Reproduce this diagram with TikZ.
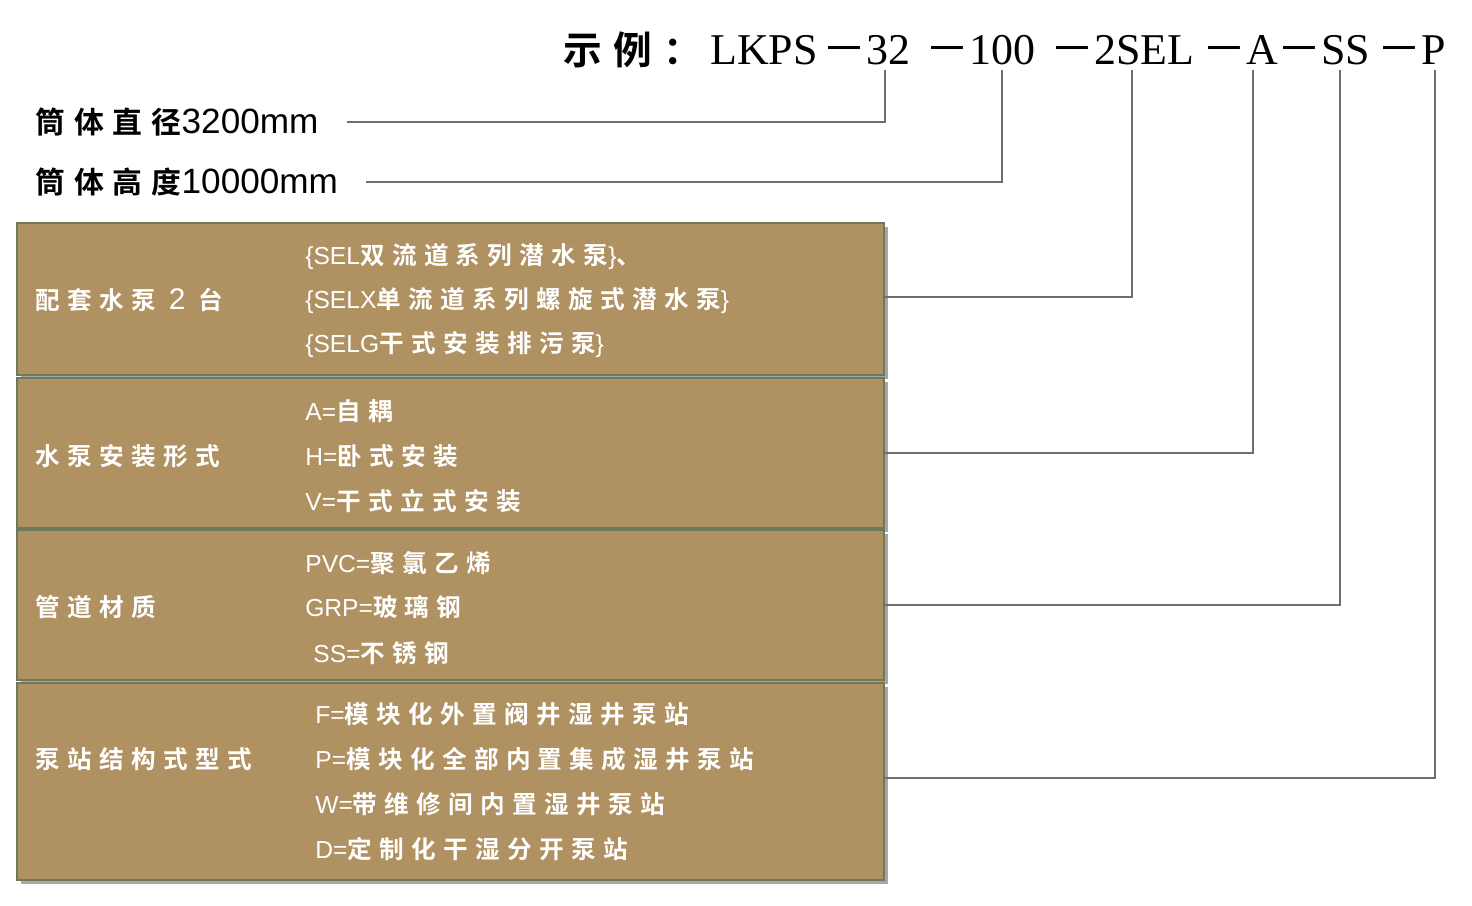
\documentclass[tikz,border=0pt]{standalone}
\usepackage{fontspec}
\setmainfont{Liberation Sans}
\newfontfamily\cjk[LetterSpace=30]{Noto Sans CJK SC Bold}
\newfontfamily\cjkdash{Noto Sans CJK SC}
\newfontfamily\serifcode{Liberation Serif}
\usetikzlibrary{positioning}
\definecolor{boxfill}{RGB}{176,145,98}
\definecolor{boxedge}{RGB}{110,120,90}
\definecolor{leader}{RGB}{110,110,110}

\tikzset{
  codepart/.style={anchor=base west, inner sep=0pt, font=\serifcode\fontsize{25}{25}\selectfont},
  sizelabel/.style={anchor=west, inner sep=0pt, font=\cjk\fontsize{17}{17}\selectfont},
  boxtitle/.style={anchor=west, inner sep=0pt, font=\cjk\fontsize{14}{14}\selectfont, text=white},
  boxvalue/.style={anchor=west, inner sep=0pt, font=\cjk\fontsize{14}{14}\selectfont, text=white},
  leaderline/.style={draw=leader, line width=1pt}
}
\newcommand{\latin}[1]{{\fontspec{Liberation Sans}#1}}
\newcommand{\codedash}{{\cjkdash －}}

\begin{document}
\begin{tikzpicture}[x=0.02cm, y=-0.02cm]
  \useasboundingbox (0,0) rectangle (1472,906);

  % Example code
  \node[codepart, font=\cjk\fontsize{22}{22}\selectfont] (lbl) at (563,64) {示例：};
  \node[codepart] (lkps) at (710,64) {LKPS};
  \node[codepart] (dia) at (822,64) {\codedash32};
  \node[codepart] (hgt) at (925,64) {\codedash100};
  \node[codepart] (pmp) at (1050,64) {\codedash2SEL};
  \node[codepart] (ins) at (1202,64) {\codedash A};
  \node[codepart] (mat) at (1277,64) {\codedash SS};
  \node[codepart] (sta) at (1377,64) {\codedash P};

  % Size labels
  \node[sizelabel] (dlab) at (35,122) {筒体直径\latin{\fontsize{20}{20}\selectfont 3200mm}};
  \node[sizelabel] (hlab) at (35,182) {筒体高度\latin{\fontsize{20}{20}\selectfont 10000mm}};

  % Boxes (shadow + fill)
  \foreach \y/\h in {223/152, 378/150, 530/150, 683/197}
    \fill[black!35] (21,\y+4) rectangle ++(867,\h);
  \fill[boxfill, draw=boxedge, line width=1pt] (17,223) rectangle (884,375);
  \fill[boxfill, draw=boxedge, line width=1pt] (17,378) rectangle (884,528);
  \fill[boxfill, draw=boxedge, line width=1pt] (17,530) rectangle (884,680);
  \fill[boxfill, draw=boxedge, line width=1pt] (17,683) rectangle (884,880);

  \coordinate (e1) at (884,297);
  \coordinate (e2) at (884,453);
  \coordinate (e3) at (884,605);
  \coordinate (e4) at (884,778);

  % Box texts
  \node[boxtitle] (t1) at (35,300) {配套水泵 \latin{\fontsize{17}{17}\selectfont 2} 台};
  \node[boxvalue] at (305,256) {\latin{\{SEL}双流道系列潜水泵\latin{\}}、};
  \node[boxvalue] at (305,300) {\latin{\{SELX}单流道系列螺旋式潜水泵\latin{\}}};
  \node[boxvalue] at (305,345) {\latin{\{SELG}干式安装排污泵\latin{\}}};

  \node[boxtitle] (t2) at (35,456) {水泵安装形式};
  \node[boxvalue] at (305,411) {\latin{A=}自耦};
  \node[boxvalue] at (305,456) {\latin{H=}卧式安装};
  \node[boxvalue] at (305,501) {\latin{V=}干式立式安装};

  \node[boxtitle] (t3) at (35,607) {管道材质};
  \node[boxvalue] at (305,563) {\latin{PVC=}聚氯乙烯};
  \node[boxvalue] at (305,607) {\latin{GRP=}玻璃钢};
  \node[boxvalue] at (313,653) {\latin{SS=}不锈钢};

  \node[boxtitle] (t4) at (35,759) {泵站结构式型式};
  \node[boxvalue] at (315,714) {\latin{F=}模块化外置阀井湿井泵站};
  \node[boxvalue] at (315,759) {\latin{P=}模块化全部内置集成湿井泵站};
  \node[boxvalue] at (315,804) {\latin{W=}带维修间内置湿井泵站};
  \node[boxvalue] at (315,849) {\latin{D=}定制化干湿分开泵站};

  % Leader lines
  \draw[leaderline] (885,70) |- ([xshift=16]dlab.east);
  \draw[leaderline] (1002,70) |- ([xshift=16]hlab.east);
  \draw[leaderline] (1132,70) |- (e1);
  \draw[leaderline] (1253,70) |- (e2);
  \draw[leaderline] (1340,70) |- (e3);
  \draw[leaderline] (1435,70) |- (e4);
\end{tikzpicture}
\end{document}
